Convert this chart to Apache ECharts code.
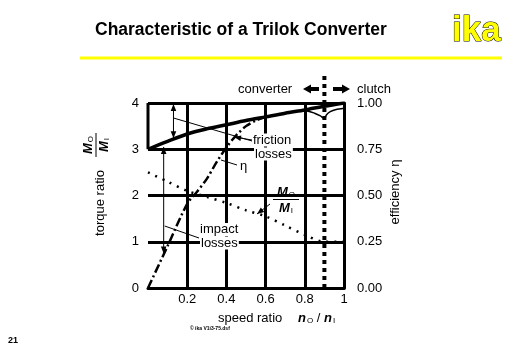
<!DOCTYPE html>
<html><head><meta charset="utf-8">
<script src="https://cdn.jsdelivr.net/npm/echarts@6/dist/echarts.min.js"></script>
<style>html,body{margin:0;padding:0;background:#fff}#c{width:512px;height:354px}</style>
</head><body><div id="c"></div>
<script>
// ---- data ----
const speedRatio   = [0, 0.1, 0.2, 0.3, 0.4, 0.5, 0.6, 0.7, 0.8, 0.9, 1.0];
const upperCurve   = [3.0, 3.17, 3.33, 3.44, 3.53, 3.62, 3.70, 3.78, 3.85, 3.93, 4.0];   // thick solid (left axis)
const torqueRatio  = [2.5, 2.3, 2.1, 1.97, 1.84, 1.68, 1.55, 1.35, 1.15, 1.0, 1.0];     // dotted MO/MI (left axis)
const etaSpeed     = [0, 0.1, 0.2, 0.25, 0.3, 0.35, 0.4, 0.45, 0.5, 0.55, 0.6];
const etaConverter = [0, 0.227, 0.455, 0.52, 0.59, 0.68, 0.76, 0.825, 0.875, 0.905, 0.925];  // dash-dot η (right axis)
const etaSpeed2    = [0.6, 0.7, 0.8, 0.85, 0.88, 0.9, 0.91, 0.93, 0.96, 1.0];
const etaFriction  = [0.925, 0.945, 0.96, 0.945, 0.93, 0.915, 0.935, 0.953, 0.965, 0.972]; // thin solid η
const couplingPoint = 0.9;
const xTicks = [0.2, 0.4, 0.6, 0.8, 1];
const leftTicks = [0, 1, 2, 3, 4];
const rightTicks = ['0.00', '0.25', '0.50', '0.75', '1.00'];

const pair = (xs, ys) => xs.map((x, i) => [x, ys[i]]);
const F = '"Liberation Sans", Arial, sans-serif';
const FS = 13;
const chart = echarts.init(document.getElementById('c'), null, {renderer: 'canvas'});

chart.setOption({
  animation: false,
  backgroundColor: '#fff',
  grid: {left: 148, right: 168, top: 103, bottom: 66, containLabel: false},
  xAxis: {
    type: 'value', min: 0, max: 1, interval: 0.2,
    axisLine: {show: true, lineStyle: {color: '#000', width: 3}},
    axisTick: {show: false},
    axisLabel: {color: '#000', fontSize: FS, fontFamily: F, margin: 5,
      formatter: v => { const t = xTicks.find(k => Math.abs(k - v) < 1e-6); return t === undefined ? '' : String(t); }},
    splitLine: {show: true, showMinLine: false, lineStyle: {color: '#000', width: 3}}
  },
  yAxis: [{
    type: 'value', min: 0, max: 4, interval: 1,
    axisLine: {show: false}, axisTick: {show: false},
    axisLabel: {color: '#000', fontSize: FS, fontFamily: F, margin: 9,
      formatter: v => String(leftTicks[Math.round(v)])},
    splitLine: {show: true, lineStyle: {color: '#000', width: 3}}
  }, {
    type: 'value', min: 0, max: 1, interval: 0.25, position: 'right',
    axisLine: {show: true, lineStyle: {color: '#000', width: 3}}, axisTick: {show: false},
    axisLabel: {color: '#000', fontSize: FS, fontFamily: F, margin: 13,
      formatter: v => rightTicks[Math.round(v * 4)]},
    splitLine: {show: false}
  }],
  series: [
    {type: 'line', yAxisIndex: 0, data: [[0, 3], [0, 4]], symbol: 'none', silent: true,
     lineStyle: {color: '#000', width: 3}},
    {type: 'line', yAxisIndex: 0, data: pair(speedRatio, torqueRatio), symbol: 'none', smooth: 0.3, z: 5,
     lineStyle: {color: '#000', width: 2.5, type: [2, 6], cap: 'butt'}},
    {type: 'line', yAxisIndex: 1, data: pair(etaSpeed, etaConverter), symbol: 'none', smooth: 0.3, z: 5,
     lineStyle: {color: '#000', width: 2.5, type: [9, 3, 2, 3]}},
    {type: 'line', yAxisIndex: 1, data: pair(etaSpeed2, etaFriction), symbol: 'none', smooth: 0.2, z: 5,
     lineStyle: {color: '#000', width: 1.5}},
    {type: 'line', yAxisIndex: 0, data: pair(speedRatio, upperCurve), symbol: 'none', smooth: 0.3, z: 6,
     lineStyle: {color: '#000', width: 3.5}},
    {type: 'line', yAxisIndex: 0, data: [[couplingPoint, 0], [couplingPoint, 4.6]], symbol: 'none', clip: false, z: 7,
     lineStyle: {color: '#000', width: 4, type: [4, 4], cap: 'butt'}}
  ]
});

// ---- annotations ----
const px = (x, y, yi) => chart.convertToPixel({xAxisIndex: 0, yAxisIndex: yi || 0}, [x, y]);
function interp(xs, ys, x) { for (let i = 1; i < xs.length; i++) if (x <= xs[i]) { const t = (x - xs[i-1]) / (xs[i] - xs[i-1]); return ys[i-1] + t * (ys[i] - ys[i-1]); } return ys[ys.length-1]; }
const G = [];
function line(x1, y1, x2, y2, w) { G.push({type: 'line', z: 100, shape: {x1, y1, x2, y2}, style: {stroke: '#000', lineWidth: w || 1}}); }
function head(x1, y1, x2, y2, len, wid) {
  const dx = x2 - x1, dy = y2 - y1, d = Math.hypot(dx, dy), ux = dx / d, uy = dy / d;
  const bx = x2 - ux * len, by = y2 - uy * len;
  G.push({type: 'polygon', z: 101, shape: {points: [[x2, y2], [bx - uy * wid, by + ux * wid], [bx + uy * wid, by - ux * wid]]}, style: {fill: '#000'}});
}
function arrow(x1, y1, x2, y2, both) { line(x1, y1, x2, y2, 1); head(x1, y1, x2, y2, 7, 2.8); if (both) head(x2, y2, x1, y1, 7, 2.8); }
function text(x, y, s, o) {
  G.push({type: 'text', z: 102, x, y, style: Object.assign({text: s, fontSize: FS, fontFamily: F, fill: '#000', align: 'left', verticalAlign: 'middle'}, o || {})});
}
function textR(x, y, s, o) {
  G.push({type: 'text', z: 102, x, y, rotation: Math.PI / 2, style: Object.assign({text: s, fontSize: FS, fontFamily: F, fill: '#000', align: 'center', verticalAlign: 'middle'}, o || {})});
}
const M = {fontSize: FS, fontWeight: 'bold', fontStyle: 'italic', fontFamily: F};
const SUB = {fontSize: 8, fontFamily: F, padding: [5, 0, 0, 1]};

// header
text(95, 30, 'Characteristic of a Trilok Converter', {fontSize: 17.5, fontWeight: 'bold'});
text(452, 31, 'ika', {fontSize: 35, fontWeight: 'bold', fill: '#ffff00', stroke: '#000', lineWidth: 1});
G.push({type: 'line', z: 100, shape: {x1: 80, y1: 58, x2: 502, y2: 58}, style: {stroke: '#ffff00', lineWidth: 3}});
text(8, 341, '21', {fontSize: 9, fontWeight: 'bold'});

// converter / clutch
text(238, 89, 'converter');
text(357, 89, 'clutch');
G.push({type: 'polygon', z: 101, shape: {points: [[303, 89], [311, 84.5], [311, 87], [319, 87], [319, 91], [311, 91], [311, 93.5]]}, style: {fill: '#000'}});
G.push({type: 'polygon', z: 101, shape: {points: [[350, 89], [342, 84.5], [342, 87], [333, 87], [333, 91], [342, 91], [342, 93.5]]}, style: {fill: '#000'}});

// axis titles
textR(100, 203, 'torque ratio');
textR(88, 145, '{m|M}{s|O}', {rich: {m: M, s: SUB}});
textR(104, 145, '{m|M}{s|I}', {rich: {m: M, s: SUB}});
line(96, 133, 96, 157, 1);
textR(395, 192, 'efficiency η');
text(218, 318, 'speed ratio');
text(298, 318, '{m|n}{s|O}{t| / }{m|n}{s|I}', {rich: {m: M, s: SUB, t: {fontSize: FS, fontFamily: F}}});
text(190, 329, '© ika V1i3-75.dsf', {fontSize: 5, fontWeight: 'bold'});

// friction losses double arrow
const fx = 0.13;
const fTop = px(fx, 4), fBot = px(fx, interp(speedRatio, upperCurve, fx));
arrow(fTop[0], fTop[1] + 1, fBot[0], fBot[1] - 1, true);
line(fTop[0], 118, 252, 141, 1);
arrow(252, 140, 234, 137, false);
text(253, 140, 'friction', {backgroundColor: '#fff'});
text(254, 154, 'losses', {backgroundColor: '#fff', padding: [0, 1, 0, 1]});

// eta label
line(221, 160, 237, 165, 1);
text(240, 166, 'η');

// impact losses double arrow
const ix = 0.08;
const iTop = px(ix, 3.05), iBot = px(ix, interp(etaSpeed, etaConverter, ix), 1);
arrow(iTop[0], iTop[1], iBot[0], iBot[1] - 1, true);
line(iTop[0] + 1, 226, 199, 238, 1);
text(200, 229.5, 'impact', {backgroundColor: '#fff'});
text(200, 243, 'losses', {backgroundColor: '#fff', padding: [0, 1, 0, 1]});

// MO/MI label
text(286, 192, '{m|M}{s|O}', {align: 'center', rich: {m: M, s: SUB}});
line(273, 199.5, 299, 199.5, 1);
text(286, 208, '{m|M}{s|I}', {align: 'center', rich: {m: M, s: SUB}});
arrow(270, 204, 257, 214, false);

chart.setOption({graphic: {elements: G}});
</script>
</body></html>
